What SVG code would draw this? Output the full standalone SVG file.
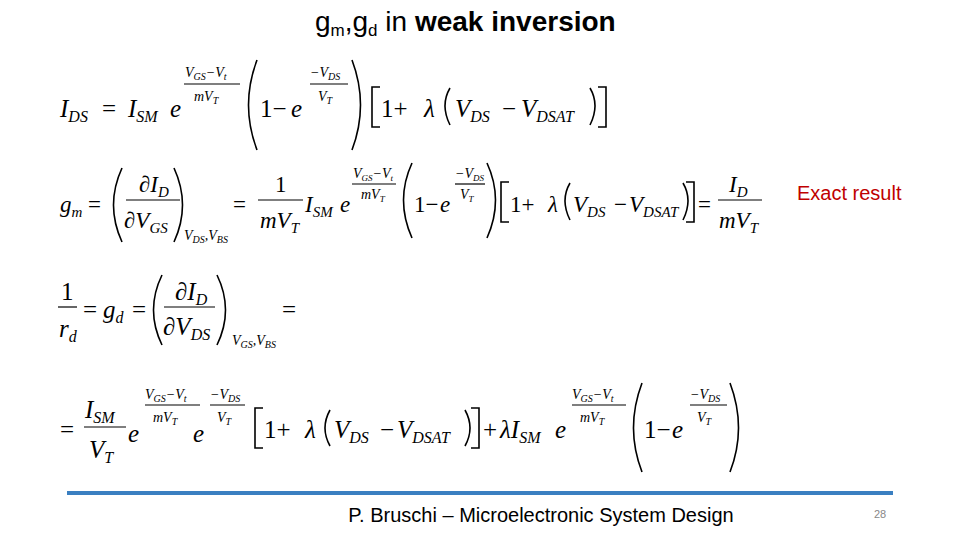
<svg xmlns="http://www.w3.org/2000/svg" width="960" height="540" viewBox="0 0 960 540">
<style>
.m{font-family:"Liberation Serif",serif;font-style:italic;font-size:25px;fill:#000}
.u{font-family:"Liberation Serif",serif;font-size:25px;fill:#000}
.s{font-size:16px}
.x{font-family:"Liberation Serif",serif;font-style:italic;font-size:14px;fill:#000}
.p{fill:none;stroke:#000;stroke-width:1.6}
.f{stroke:#000;stroke-width:1.2}
#eq2 .m,#eq2 .u{font-size:23px}
#eq2 .s{font-size:15px}
</style>
<rect width="960" height="540" fill="#fff"/>
<text x="315" y="31" font-family="Liberation Sans,sans-serif" font-size="28">g<tspan font-size="17" dy="5">m</tspan><tspan dy="-5">,g</tspan><tspan font-size="17" dy="5">d</tspan><tspan dy="-5"> in </tspan><tspan font-weight="bold">weak inversion</tspan></text>

<g id="eq1">
<text class="m" x="60" y="117">I<tspan class="s" dy="5">DS</tspan></text>
<text class="u" x="102" y="117">=</text>
<text class="m" x="128" y="117">I<tspan class="s" dy="5">SM</tspan></text>
<text class="m" x="170" y="117">e</text>
<text class="x" x="185" y="77">V<tspan font-size="10" dy="3">GS</tspan><tspan dy="-3">−V</tspan><tspan font-size="10" dy="3">t</tspan></text>
<line class="f" x1="184" y1="84" x2="240" y2="84"/>
<text class="x" x="194" y="101">mV<tspan font-size="10" dy="3">T</tspan></text>
<path class="p" d="M257,60 Q240,105 257,150"/>
<text class="u" x="260" y="117">1−</text>
<text class="m" x="291" y="117">e</text>
<text class="x" x="310" y="77">−V<tspan font-size="10" dy="3">DS</tspan></text>
<line class="f" x1="310" y1="84" x2="348" y2="84"/>
<text class="x" x="318" y="101">V<tspan font-size="10" dy="3">T</tspan></text>
<path class="p" d="M352,60 Q369,105 352,150"/>
<path class="p" d="M380,87 H372 V127 H380"/>
<text class="u" x="381" y="117">1+</text>
<text class="m" x="424" y="117">λ</text>
<path class="p" d="M450,88 Q440,105 450,125"/>
<text class="m" x="455" y="117">V<tspan class="s" dy="5">DS</tspan></text>
<text class="u" x="502" y="117">−</text>
<text class="m" x="521" y="117">V<tspan class="s" dy="5">DSAT</tspan></text>
<path class="p" d="M590,88 Q600,105 590,125"/>
<path class="p" d="M598,87 H606 V127 H598"/>
</g>

<g id="eq2">
<text class="m" x="60" y="212">g<tspan class="s" dy="5">m</tspan></text>
<text class="u" x="88" y="212">=</text>
<path class="p" d="M122,168 Q105,205 122,242"/>
<text class="m" x="139" y="192">∂I<tspan class="s" dy="5">D</tspan></text>
<line class="f" x1="126" y1="200" x2="180" y2="200"/>
<text class="m" x="124" y="228">∂V<tspan class="s" dy="5">GS</tspan></text>
<path class="p" d="M174,168 Q191,205 174,242"/>
<text class="x" x="184" y="240">V<tspan font-size="10" dy="3">DS</tspan><tspan dy="-3">,V</tspan><tspan font-size="10" dy="3">BS</tspan></text>
<text class="u" x="233" y="212">=</text>
<text class="u" x="275" y="192">1</text>
<line class="f" x1="258" y1="200" x2="303" y2="200"/>
<text class="m" x="260" y="228">mV<tspan class="s" dy="5">T</tspan></text>
<text class="m" x="305" y="212">I<tspan class="s" dy="5">SM</tspan></text>
<text class="m" x="340" y="212">e</text>
<text class="x" x="353" y="178">V<tspan font-size="9" dy="3">GS</tspan><tspan dy="-3">−V</tspan><tspan font-size="9" dy="3">t</tspan></text>
<line class="f" x1="352" y1="184" x2="396" y2="184"/>
<text class="x" x="361" y="199">mV<tspan font-size="9" dy="3">T</tspan></text>
<path class="p" d="M412,163 Q395,200 412,238"/>
<text class="u" x="414" y="212">1−</text>
<text class="m" x="440" y="212">e</text>
<text class="x" x="455" y="178">−V<tspan font-size="9" dy="3">DS</tspan></text>
<line class="f" x1="455" y1="184" x2="485" y2="184"/>
<text class="x" x="460" y="199">V<tspan font-size="9" dy="3">T</tspan></text>
<path class="p" d="M487,163 Q504,200 487,238"/>
<path class="p" d="M509,182 H501 V222 H509"/>
<text class="u" x="510" y="212">1+</text>
<text class="m" x="548" y="212">λ</text>
<path class="p" d="M570,183 Q560,200 570,220"/>
<text class="m" x="573" y="212">V<tspan class="s" dy="5">DS</tspan></text>
<text class="u" x="614" y="212">−</text>
<text class="m" x="629" y="212">V<tspan class="s" dy="5">DSAT</tspan></text>
<path class="p" d="M683,183 Q693,200 683,220"/>
<path class="p" d="M686,182 H694 V222 H686"/>
<text class="u" x="698" y="212">=</text>
<text class="m" x="729" y="192">I<tspan class="s" dy="5">D</tspan></text>
<line class="f" x1="718" y1="200" x2="762" y2="200"/>
<text class="m" x="719" y="228">mV<tspan class="s" dy="5">T</tspan></text>
</g>

<text id="exact" x="797" y="200" font-family="Liberation Sans,sans-serif" font-size="20" fill="#c00000">Exact result</text>

<g id="eq3">
<text class="u" x="61" y="300">1</text>
<line class="f" x1="58" y1="307" x2="77" y2="307"/>
<text class="m" x="59" y="337">r<tspan class="s" dy="5">d</tspan></text>
<text class="u" x="83" y="318">=</text>
<text class="m" x="103" y="318">g<tspan class="s" dy="5">d</tspan></text>
<text class="u" x="132" y="318">=</text>
<path class="p" d="M162,275 Q145,310 162,345"/>
<text class="m" x="175" y="300">∂I<tspan class="s" dy="5">D</tspan></text>
<line class="f" x1="164" y1="307" x2="215" y2="307"/>
<text class="m" x="163" y="335">∂V<tspan class="s" dy="5">DS</tspan></text>
<path class="p" d="M217,275 Q234,310 217,345"/>
<text class="x" x="232" y="345">V<tspan font-size="10" dy="3">GS</tspan><tspan dy="-3">,V</tspan><tspan font-size="10" dy="3">BS</tspan></text>
<text class="u" x="282" y="318">=</text>
</g>

<g id="eq4">
<text class="u" x="60" y="438">=</text>
<text class="m" x="85" y="418">I<tspan class="s" dy="5">SM</tspan></text>
<line class="f" x1="84" y1="427" x2="126" y2="427"/>
<text class="m" x="89" y="458">V<tspan class="s" dy="5">T</tspan></text>
<text class="m" x="128" y="442">e</text>
<text class="x" x="145" y="399">V<tspan font-size="10" dy="3">GS</tspan><tspan dy="-3">−V</tspan><tspan font-size="10" dy="3">t</tspan></text>
<line class="f" x1="145" y1="405" x2="200" y2="405"/>
<text class="x" x="153" y="422">mV<tspan font-size="10" dy="3">T</tspan></text>
<text class="m" x="193" y="442">e</text>
<text class="x" x="210" y="399">−V<tspan font-size="10" dy="3">DS</tspan></text>
<line class="f" x1="210" y1="405" x2="245" y2="405"/>
<text class="x" x="217" y="422">V<tspan font-size="10" dy="3">T</tspan></text>
<path class="p" d="M263,408 H255 V448 H263"/>
<text class="u" x="264" y="438">1+</text>
<text class="m" x="305" y="438">λ</text>
<path class="p" d="M330,410 Q320,428 330,446"/>
<text class="m" x="334" y="438">V<tspan class="s" dy="5">DS</tspan></text>
<text class="u" x="380" y="438">−</text>
<text class="m" x="397" y="438">V<tspan class="s" dy="5">DSAT</tspan></text>
<path class="p" d="M465,410 Q475,428 465,446"/>
<path class="p" d="M471,408 H479 V448 H471"/>
<text class="u" x="483" y="438">+</text>
<text class="m" x="500" y="438">λI<tspan class="s" dy="5">SM</tspan></text>
<text class="m" x="555" y="438">e</text>
<text class="x" x="572" y="399">V<tspan font-size="10" dy="3">GS</tspan><tspan dy="-3">−V</tspan><tspan font-size="10" dy="3">t</tspan></text>
<line class="f" x1="572" y1="405" x2="626" y2="405"/>
<text class="x" x="580" y="422">mV<tspan font-size="10" dy="3">T</tspan></text>
<path class="p" d="M642,383 Q625,428 642,472"/>
<text class="u" x="644" y="438">1−</text>
<text class="m" x="672" y="438">e</text>
<text class="x" x="690" y="399">−V<tspan font-size="10" dy="3">DS</tspan></text>
<line class="f" x1="690" y1="405" x2="727" y2="405"/>
<text class="x" x="697" y="422">V<tspan font-size="10" dy="3">T</tspan></text>
<path class="p" d="M730,383 Q747,428 730,472"/>
</g>

<line x1="67" y1="493" x2="893" y2="493" stroke="#3a7fc1" stroke-width="4"/>
<text x="541" y="522" text-anchor="middle" font-family="Liberation Sans,sans-serif" font-size="20">P. Bruschi – Microelectronic System Design</text>
<text x="880" y="518" text-anchor="middle" font-family="Liberation Sans,sans-serif" font-size="11" fill="#888">28</text>
</svg>
